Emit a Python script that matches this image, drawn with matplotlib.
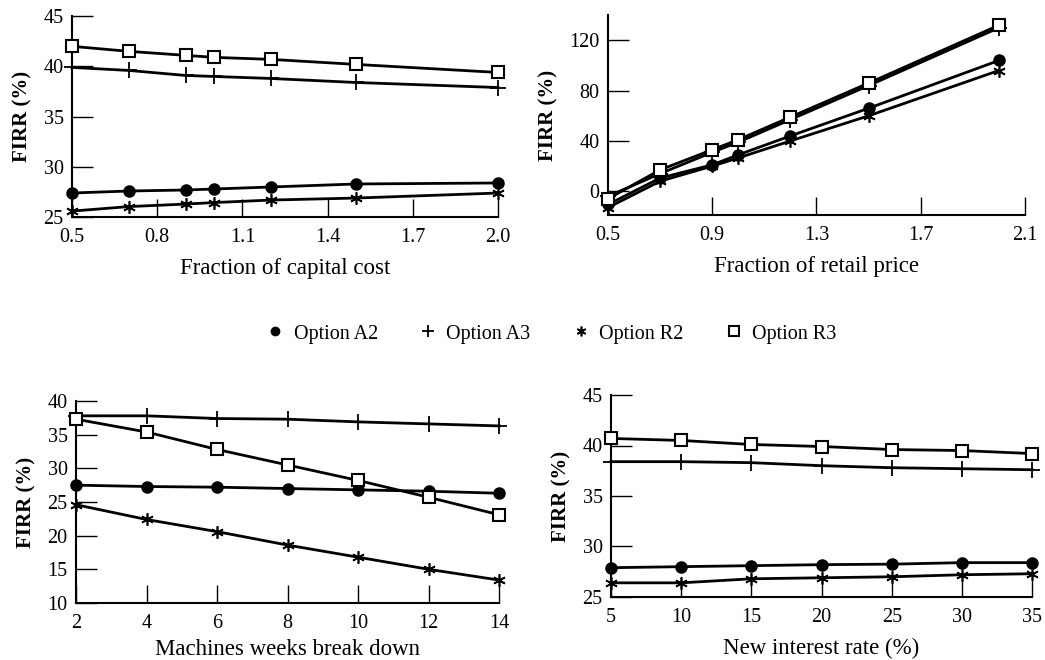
import numpy as np
import matplotlib
matplotlib.use("Agg")
import matplotlib.pyplot as plt
from matplotlib.lines import Line2D

plt.rcParams['font.family'] = ['Liberation Serif', 'DejaVu Serif']

# panel 1: capital cost
cap_x = [0.5, 0.7, 0.9, 1.0, 1.2, 1.5, 2.0]
cap_a2 = [27.4, 27.6, 27.7, 27.8, 28.0, 28.3, 28.4]
cap_a3 = [39.9, 39.6, 39.1, 39.0, 38.8, 38.4, 37.9]
cap_r2 = [25.6, 26.05, 26.3, 26.45, 26.7, 26.9, 27.4]
cap_r3 = [42.0, 41.5, 41.1, 40.9, 40.7, 40.2, 39.4]

# panel 2: retail price
ret_x = [0.5, 0.7, 0.9, 1.0, 1.2, 1.5, 2.0]
ret_a2 = [-10.5, 10.5, 21, 29, 44, 66, 104]
ret_a3 = [-4, 14, 31, 39, 57, 84, 130]
ret_r2 = [-13, 8, 20, 26.5, 40, 60, 96]
ret_r3 = [-6, 17, 33, 41, 59, 86, 132]

# panel 3: machine breakdown weeks
brk_x = [2, 4, 6, 8, 10, 12, 14]
brk_a2 = [27.5, 27.3, 27.2, 27.0, 26.8, 26.6, 26.3]
brk_a3 = [37.8, 37.8, 37.4, 37.3, 36.9, 36.6, 36.3]
brk_r2 = [24.6, 22.4, 20.6, 18.6, 16.8, 15.0, 13.4]
brk_r3 = [37.3, 35.4, 32.8, 30.5, 28.2, 25.7, 23.1]

# panel 4: interest rate
int_x = [5, 10, 15, 20, 25, 30, 35]
int_a2 = [27.9, 28.0, 28.1, 28.2, 28.25, 28.4, 28.4]
int_a3 = [38.4, 38.4, 38.3, 38.0, 37.8, 37.7, 37.6]
int_r2 = [26.4, 26.4, 26.8, 26.9, 27.0, 27.2, 27.3]
int_r3 = [40.7, 40.5, 40.1, 39.9, 39.6, 39.5, 39.2]

styles = {
    'A2': dict(marker='o', markersize=8, markerfacecolor='black'),
    'A3': dict(marker='+', markersize=11, markeredgewidth=1.3),
    'R2': dict(marker=(6, 2, 0), markersize=9, markeredgewidth=1.2),
    'R3': dict(marker='s', markersize=9, markerfacecolor='white', markeredgewidth=1.5),
}

fig = plt.figure(figsize=(10.45, 6.6), dpi=100)

panels = [
    ([0.0689, 0.671, 0.4077, 0.3045], cap_x, [cap_a2, cap_a3, cap_r2, cap_r3],
     (0.5, 2.0), np.arange(0.5, 2.01, 0.3), '{:.1f}', (25, 45), np.arange(25, 46, 5),
     'Fraction of capital cost', 8),
    ([0.5818, 0.674, 0.399, 0.303], ret_x, [ret_a2, ret_a3, ret_r2, ret_r3],
     (0.5, 2.1), np.arange(0.5, 2.11, 0.4), '{:.1f}', (-19, 140), [0, 40, 80, 120],
     'Fraction of retail price', 8),
    ([0.0727, 0.0864, 0.405, 0.306], brk_x, [brk_a2, brk_a3, brk_r2, brk_r3],
     (2, 14), np.arange(2, 15, 2), '{:.0f}', (10, 40), np.arange(10, 41, 5),
     'Machines weeks break down', 4),
    ([0.5847, 0.0955, 0.403, 0.306], int_x, [int_a2, int_a3, int_r2, int_r3],
     (5, 35), np.arange(5, 36, 5), '{:.0f}', (25, 45), np.arange(25, 46, 5),
     'New interest rate (%)', 8),
]

for rect, x, series, xlim, xt, fmt, ylim, yt, xlabel, lpad in panels:
    ax = fig.add_axes(rect)
    for name, y in zip(['A2', 'A3', 'R2', 'R3'], series):
        ax.plot(x, y, color='black', linewidth=2.0, clip_on=False, zorder=3,
                markeredgecolor='black', **styles[name])
    ax.set_xlim(*xlim)
    ax.set_ylim(*ylim)
    ax.set_xticks(xt)
    ax.set_xticklabels([fmt.format(v) for v in xt])
    ax.set_yticks(yt)
    for s in ['top', 'right']:
        ax.spines[s].set_visible(False)
    for s in ['left', 'bottom']:
        ax.spines[s].set_linewidth(1.5)
    ax.tick_params(axis='x', direction='in', length=13, width=1.0, labelsize=14.5, pad=8)
    ax.tick_params(axis='y', direction='in', length=15, width=1.0, labelsize=14.5, pad=6)
    ax.set_xlabel(xlabel, fontsize=16.5, labelpad=lpad)
    ax.set_ylabel('FIRR (%)', fontsize=15, fontweight='bold', labelpad=8)

handles = [Line2D([], [], linestyle='none', color='black', markeredgecolor='black',
                  **dict(styles[n], markersize=styles[n]['markersize'] - 2))
           for n in ['A2', 'A3', 'R2', 'R3']]
labels = ['Option A2', 'Option A3', 'Option R2', 'Option R3']
fig.legend(handles, labels, loc='center', bbox_to_anchor=(0.527, 0.494), ncol=4,
           frameon=False, fontsize=14.5, handletextpad=0.4, columnspacing=2.0,
           handlelength=1.0)

fig.savefig('out.png', dpi=100)
